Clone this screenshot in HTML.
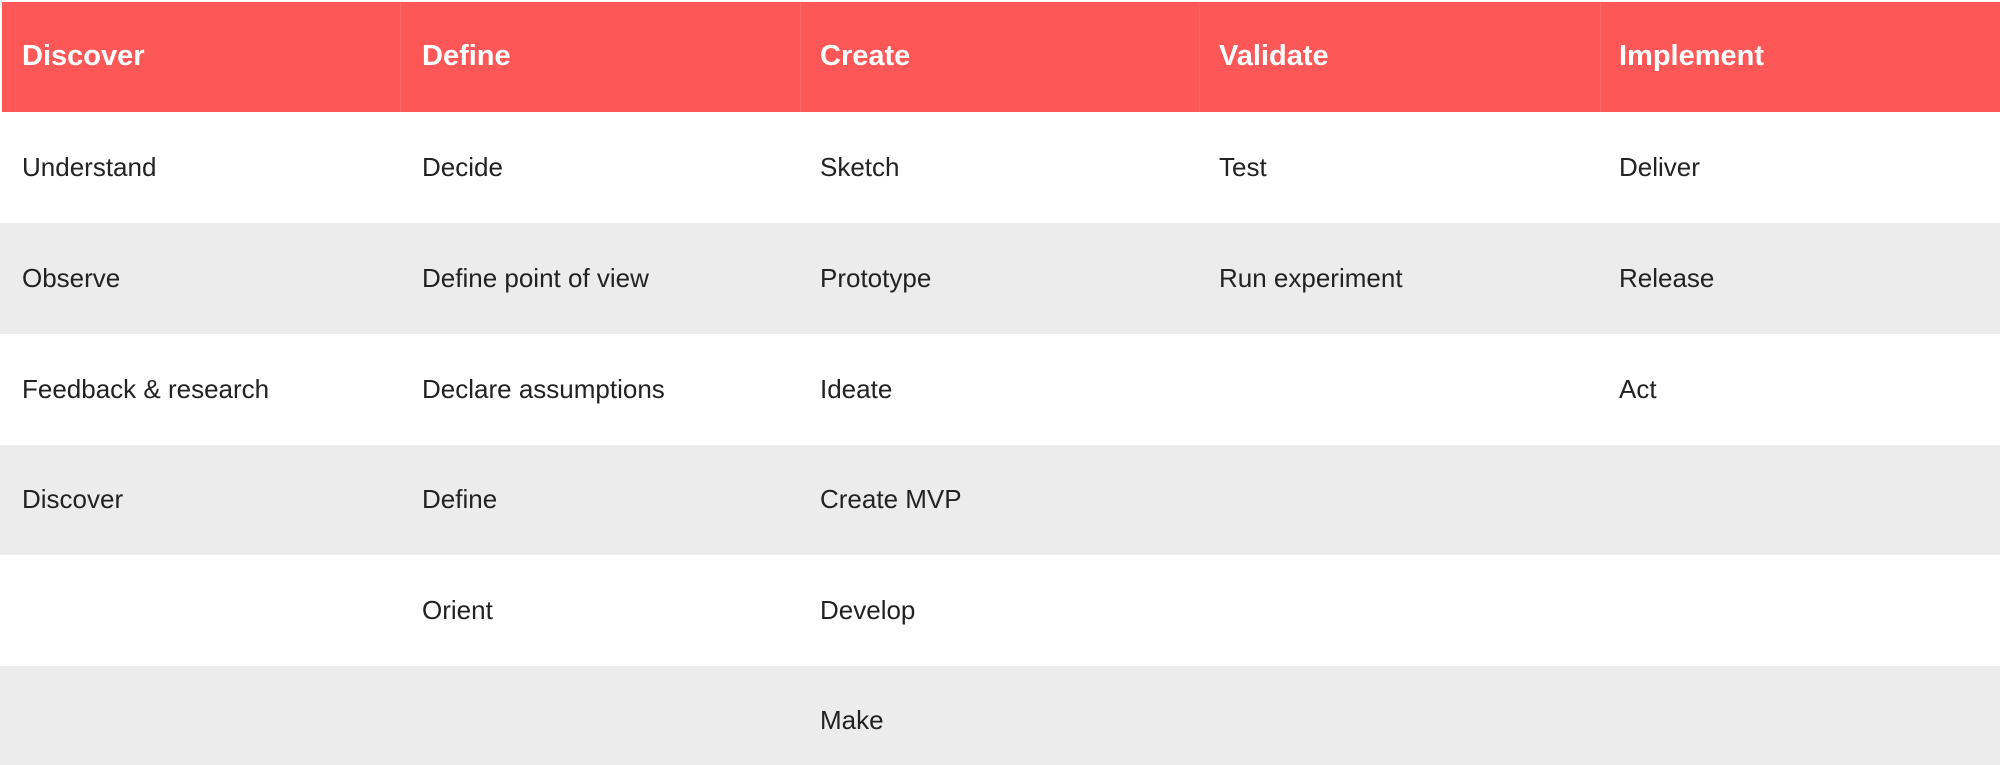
<!DOCTYPE html>
<html><head><meta charset="utf-8"><style>
body{margin:0;width:2000px;height:765px;background:#fff;position:relative;overflow:hidden;font-family:"Liberation Sans",Arial,sans-serif}
.r{position:absolute;left:0;width:2000px}
.h{background:#fe5757;top:2px;height:110px;left:2px;width:1998px}
.g{background:#ececec}
.t{position:absolute;font-size:26px;color:#222;white-space:nowrap;line-height:1}
.hd{position:absolute;font-size:29px;font-weight:bold;color:#fff;white-space:nowrap;line-height:1;top:42px}
.d{position:absolute;top:2px;height:110px;width:1px;background:#f66a6a}
</style></head><body>
<div class="r h"></div>
<div class="d" style="left:400px"></div><div class="d" style="left:800px"></div><div class="d" style="left:1199px"></div><div class="d" style="left:1600px"></div>
<div class="r g" style="top:223px;height:111px"></div>
<div class="r g" style="top:445px;height:110px"></div>
<div class="r g" style="top:666px;height:99px"></div>
<div class="hd" style="left:22px">Discover</div>
<div class="hd" style="left:422px">Define</div>
<div class="hd" style="left:820px">Create</div>
<div class="hd" style="left:1219px">Validate</div>
<div class="hd" style="left:1619px">Implement</div>

<div class="t" style="left:22px;top:154px">Understand</div>
<div class="t" style="left:422px;top:154px">Decide</div>
<div class="t" style="left:820px;top:154px">Sketch</div>
<div class="t" style="left:1219px;top:154px">Test</div>
<div class="t" style="left:1619px;top:154px">Deliver</div>

<div class="t" style="left:22px;top:265px">Observe</div>
<div class="t" style="left:422px;top:265px">Define point of view</div>
<div class="t" style="left:820px;top:265px">Prototype</div>
<div class="t" style="left:1219px;top:265px">Run experiment</div>
<div class="t" style="left:1619px;top:265px">Release</div>

<div class="t" style="left:22px;top:376px">Feedback &amp; research</div>
<div class="t" style="left:422px;top:376px">Declare assumptions</div>
<div class="t" style="left:820px;top:376px">Ideate</div>
<div class="t" style="left:1619px;top:376px">Act</div>

<div class="t" style="left:22px;top:486px">Discover</div>
<div class="t" style="left:422px;top:486px">Define</div>
<div class="t" style="left:820px;top:486px">Create MVP</div>

<div class="t" style="left:422px;top:597px">Orient</div>
<div class="t" style="left:820px;top:597px">Develop</div>

<div class="t" style="left:820px;top:707px">Make</div>
</body></html>
